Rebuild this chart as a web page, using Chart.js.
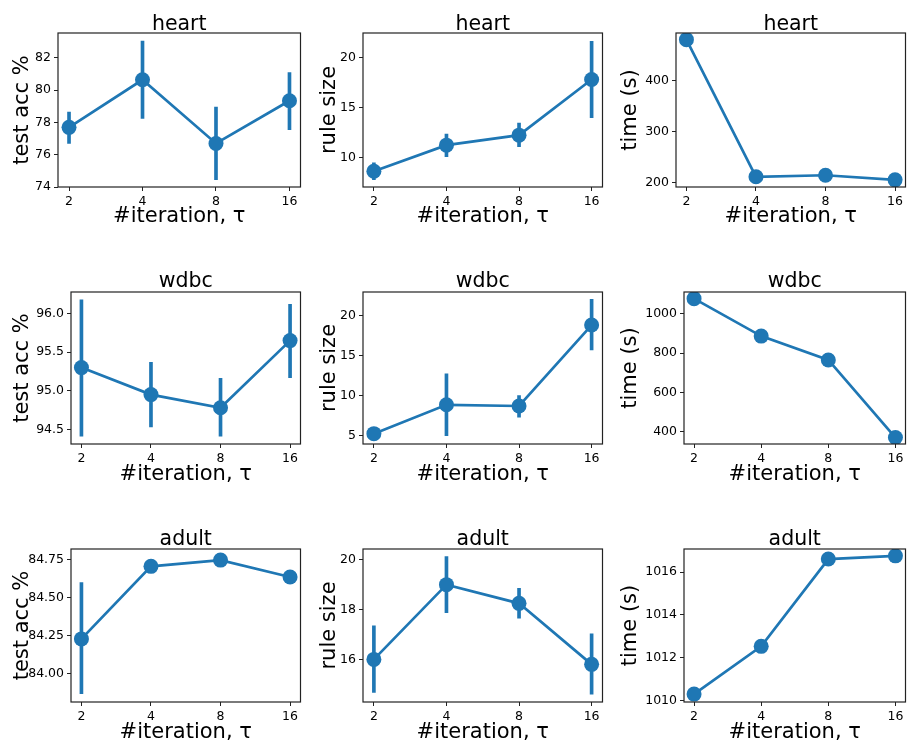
<!DOCTYPE html>
<html>
<head>
<meta charset="utf-8">
<script src="https://cdn.jsdelivr.net/npm/chart.js@4.4.1/dist/chart.umd.min.js"></script>
<style>
  body { margin: 0; background: #fff; width: 913px; height: 745px; position: relative; overflow: hidden; }
  canvas { position: absolute; }
</style>
</head>
<body>
<script>
// Data
const iterations = ['2', '4', '8', '16'];

const heartAcc = [77.7, 80.65, 76.7, 79.35];
const heartAccLow = [76.7, 78.25, 74.45, 77.55];
const heartAccHigh = [78.65, 83.05, 78.95, 81.1];

const heartRule = [8.65, 11.25, 12.25, 17.8];
const heartRuleLow = [7.8, 10.1, 11.1, 14.0];
const heartRuleHigh = [9.5, 12.35, 13.45, 21.6];

const heartTime = [480, 212, 215, 206];

const wdbcAcc = [95.3, 94.95, 94.78, 95.65];
const wdbcAccLow = [94.41, 94.53, 94.41, 95.17];
const wdbcAccHigh = [96.18, 95.37, 95.16, 96.12];

const wdbcRule = [5.25, 8.85, 8.7, 18.8];
const wdbcRuleLow = [null, 5.0, 7.3, 15.7];
const wdbcRuleHigh = [null, 12.7, 10.0, 22.0];

const wdbcTime = [1078, 887, 765, 369];

const adultAcc = [84.23, 84.706, 84.747, 84.636];
const adultAccLow = [83.87, null, null, null];
const adultAccHigh = [84.6, null, null, null];

const adultRule = [16.0, 19.0, 18.25, 15.8];
const adultRuleLow = [14.67, 17.87, 17.65, 14.6];
const adultRuleHigh = [17.35, 20.13, 18.85, 17.03];

const adultTime = [1010.3, 1012.53, 1016.61, 1016.76];

// y tick values of each panel
const heartAccTicks = [74, 76, 78, 80, 82];
const heartRuleTicks = [10, 15, 20];
const heartTimeTicks = [200, 300, 400];
const wdbcAccTicks = [94.5, 95.0, 95.5, 96.0];
const wdbcRuleTicks = [5, 10, 15, 20];
const wdbcTimeTicks = [400, 600, 800, 1000];
const adultAccTicks = [84.0, 84.25, 84.5, 84.75];
const adultRuleTicks = [16, 18, 20];
const adultTimeTicks = [1010, 1012, 1014, 1016];

const blue = '#1f77b4';
const font = "'DejaVu Sans', sans-serif";

// layout of the 3x3 grid (page pixels)
const colBox = [[0, 308], [308, 610], [610, 913]];
const rowBox = [[0, 245], [255, 500], [510, 745]];
const plotTop = [33, 292, 549];
const plotBottom = [187, 444, 702];
const plotRight = [303, 607, 912];
const plotLeft = [[58, 363, 676], [71, 363, 684], [71, 363, 684]];
const titleMid = [24.7, 282, 539.7];
const xLabelMid = [216.4, 474.4, 733];
const yLabelMid = [22.5, 329.5, 631];

const panels = [
  { title: 'heart', ylabel: 'test acc %', mean: heartAcc, lo: heartAccLow, hi: heartAccHigh, min: 74, max: 83.55, ticks: heartAccTicks, dec: 0 },
  { title: 'heart', ylabel: 'rule size', mean: heartRule, lo: heartRuleLow, hi: heartRuleHigh, min: 7.08, max: 22.43, ticks: heartRuleTicks, dec: 0 },
  { title: 'heart', ylabel: 'time (s)', mean: heartTime, min: 192, max: 493, ticks: heartTimeTicks, dec: 0 },
  { title: 'wdbc', ylabel: 'test acc %', mean: wdbcAcc, lo: wdbcAccLow, hi: wdbcAccHigh, min: 94.31, max: 96.28, ticks: wdbcAccTicks, dec: 1 },
  { title: 'wdbc', ylabel: 'rule size', mean: wdbcRule, lo: wdbcRuleLow, hi: wdbcRuleHigh, min: 3.96, max: 22.92, ticks: wdbcRuleTicks, dec: 0 },
  { title: 'wdbc', ylabel: 'time (s)', mean: wdbcTime, min: 336, max: 1112, ticks: wdbcTimeTicks, dec: 0 },
  { title: 'adult', ylabel: 'test acc %', mean: adultAcc, lo: adultAccLow, hi: adultAccHigh, min: 83.816, max: 84.82, ticks: adultAccTicks, dec: 2 },
  { title: 'adult', ylabel: 'rule size', mean: adultRule, lo: adultRuleLow, hi: adultRuleHigh, min: 14.29, max: 20.43, ticks: adultRuleTicks, dec: 0 },
  { title: 'adult', ylabel: 'time (s)', mean: adultTime, min: 1009.93, max: 1017.08, ticks: adultTimeTicks, dec: 0 }
];

// black frame round the plot area, like matplotlib spines
const framePlugin = {
  id: 'frame',
  afterDraw(chart) {
    const a = chart.chartArea;
    const ctx = chart.ctx;
    ctx.save();
    ctx.strokeStyle = '#222';
    ctx.lineWidth = 1.2;
    ctx.strokeRect(a.left, a.top, a.right - a.left, a.bottom - a.top);
    ctx.restore();
  }
};

function makePanel(p, idx) {
  const r = Math.floor(idx / 3), c = idx % 3;
  const [x0, x1] = colBox[c];
  const [y0, y1] = rowBox[r];
  const w = x1 - x0, h = y1 - y0;

  const cv = document.createElement('canvas');
  cv.width = w; cv.height = h;
  cv.style.left = x0 + 'px';
  cv.style.top = y0 + 'px';
  document.body.appendChild(cv);

  const titleSize = 20.5, titleLH = 0.8;
  const titleBoxH = titleSize * titleLH;
  const titleTop = titleMid[r] - y0 - titleBoxH / 2;
  const titleBottom = plotTop[r] - y0 - titleTop - titleBoxH;
  const labelSize = 21, labelLH = labelSize * 1.2;

  const datasets = [{
    type: 'line',
    data: p.mean.map((v, i) => ({ x: i, y: v })),
    borderColor: blue,
    backgroundColor: blue,
    borderWidth: 2.7,
    pointRadius: 7.5,
    pointHoverRadius: 7.5,
    pointBorderWidth: 0,
    order: 0
  }];
  if (p.lo) {
    const bars = [];
    p.lo.forEach((v, i) => { if (v != null) bars.push({ x: i, y: [v, p.hi[i]] }); });
    datasets.push({
      type: 'bar',
      data: bars,
      backgroundColor: blue,
      borderWidth: 0,
      barThickness: 3,
      order: 1
    });
  }

  new Chart(cv, {
    type: 'line',
    data: { datasets },
    plugins: [framePlugin],
    options: {
      responsive: false,
      animation: false,
      events: [],
      layout: { padding: { left: 0, top: 0, bottom: 0, right: x1 - plotRight[c] } },
      plugins: {
        legend: { display: false },
        tooltip: { enabled: false },
        title: {
          display: true,
          text: p.title,
          color: '#000',
          fullSize: false,
          font: { family: font, size: titleSize, weight: 'normal', lineHeight: titleLH },
          padding: { top: titleTop, bottom: titleBottom }
        }
      },
      scales: {
        x: {
          type: 'linear',
          min: -0.15,
          max: 3.15,
          offset: false,
          afterFit: (s) => { s.height = y1 - plotBottom[r]; },
          afterBuildTicks: (s) => { s.ticks = iterations.map((_, i) => ({ value: i })); },
          grid: { offset: false, drawOnChartArea: false, tickLength: 4, color: '#222', tickWidth: 1 },
          border: { display: false },
          ticks: {
            padding: 3,
            color: '#000',
            font: { family: font, size: 12.5 },
            callback: (v) => iterations[Math.round(v)] ?? ''
          },
          title: {
            display: true,
            text: '#iteration, τ',
            color: '#000',
            font: { family: font, size: labelSize, lineHeight: 1.2 },
            padding: { top: 0, bottom: y1 - xLabelMid[r] - labelLH / 2 }
          }
        },
        y: {
          type: 'linear',
          min: p.min,
          max: p.max,
          afterFit: (s) => { s.width = plotLeft[r][c] - x0; },
          afterBuildTicks: (s) => { s.ticks = p.ticks.map((v) => ({ value: v })); },
          grid: { drawOnChartArea: false, tickLength: 4, color: '#222', tickWidth: 1 },
          border: { display: false },
          ticks: {
            padding: 3,
            color: '#000',
            font: { family: font, size: 12.5 },
            callback: (v) => v.toFixed(p.dec)
          },
          title: {
            display: true,
            text: p.ylabel,
            color: '#000',
            font: { family: font, size: labelSize, lineHeight: 1.2 },
            padding: { top: yLabelMid[c] - x0 - labelLH / 2, bottom: 0 }
          }
        }
      }
    }
  });
}

panels.forEach(makePanel);
</script>
</body>
</html>
